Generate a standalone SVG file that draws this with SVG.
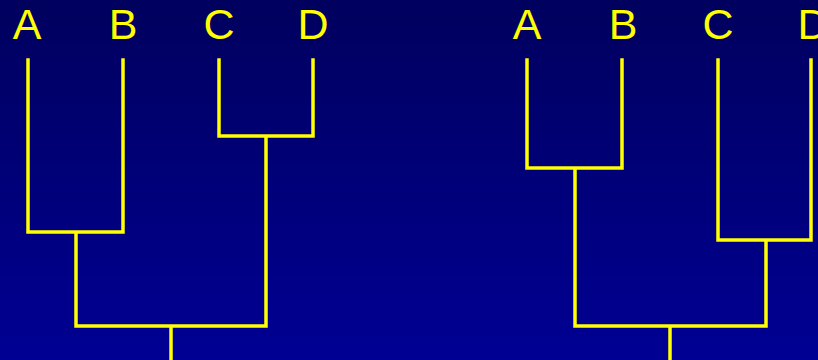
<svg xmlns="http://www.w3.org/2000/svg" width="818" height="360" viewBox="0 0 818 360">
<defs>
<linearGradient id="bg" x1="0" y1="0" x2="0" y2="1">
<stop offset="0" stop-color="#00005e"/>
<stop offset="1" stop-color="#000094"/>
</linearGradient>
<style>
.lbl{font-family:"Liberation Sans",Arial,sans-serif;font-size:43px;fill:#ffff00;text-anchor:middle}
.ln{stroke:#ffff00;stroke-width:3.5;fill:none;stroke-linecap:square}
</style>
</defs>
<rect width="818" height="360" fill="url(#bg)"/>
<g id="tree1-labels">
<g id="t1-A"><text class="lbl" x="27" y="39">A</text></g>
<g id="t1-B"><text class="lbl" x="123" y="39">B</text></g>
<g id="t1-C"><text class="lbl" x="219" y="39">C</text></g>
<g id="t1-D"><text class="lbl" x="313" y="39">D</text></g>
</g>
<g id="tree2-labels">
<g id="t2-A"><text class="lbl" x="527" y="39">A</text></g>
<g id="t2-B"><text class="lbl" x="623" y="39">B</text></g>
<g id="t2-C"><text class="lbl" x="718" y="39">C</text></g>
<g id="t2-D"><text class="lbl" x="813" y="39">D</text></g>
</g>
<g id="connectors">
<path class="ln" d="M28 60V232H123V60M76 232V326H266V136M219 60V136H313V60M171 326V362"/>
<path class="ln" d="M527 60V168H622V60M575 168V326H766V240M718 60V240H811V60M670 326V362"/>
</g>
</svg>
